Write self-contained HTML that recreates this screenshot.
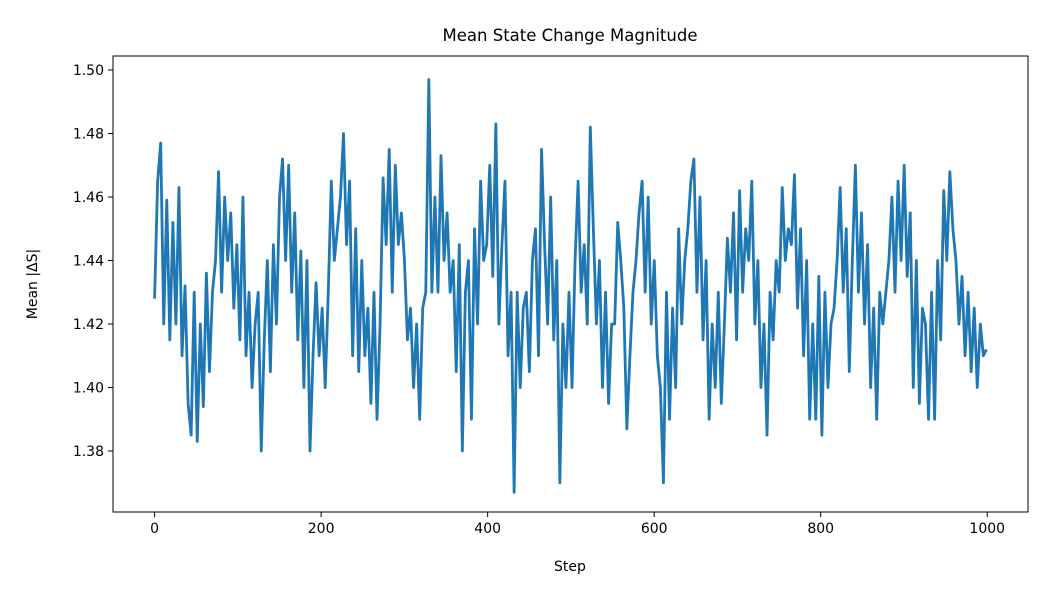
<!DOCTYPE html>
<html><head><meta charset="utf-8"><style>
body{margin:0;background:#fff;}
svg text{font-family:"DejaVu Sans","Liberation Sans",sans-serif;fill:#000;}
</style></head><body>
<svg width="1050" height="600" viewBox="0 0 1050 600" id="chart">
<rect width="1050" height="600" fill="#fff"/>
<text x="570" y="41" font-size="16.5" text-anchor="middle">Mean State Change Magnitude</text>
<text x="570" y="571" font-size="14" text-anchor="middle">Step</text>
<text x="0" y="0" font-size="14" text-anchor="middle" transform="translate(37,284) rotate(-90)">Mean |ΔS|</text>
<g id="plot"></g>
</svg>
<script>
const yTicks=[1.38,1.40,1.42,1.44,1.46,1.48,1.50];
const xTicks=[0,200,400,600,800,1000];
const values=[1.428,1.465,1.477,1.42,1.459,1.415,1.452,1.42,1.463,1.41,1.432,1.395,1.385,1.43,1.383,1.42,1.394,1.436,1.405,1.43,1.44,1.468,1.43,1.46,1.44,1.455,1.425,1.445,1.415,1.46,1.41,1.43,1.40,1.42,1.43,1.38,1.415,1.44,1.405,1.445,1.42,1.46,1.472,1.44,1.47,1.43,1.455,1.415,1.443,1.40,1.44,1.38,1.41,1.433,1.41,1.425,1.40,1.43,1.465,1.44,1.45,1.46,1.48,1.445,1.465,1.41,1.45,1.405,1.44,1.41,1.425,1.395,1.43,1.39,1.42,1.466,1.445,1.475,1.43,1.47,1.445,1.455,1.44,1.415,1.425,1.40,1.42,1.39,1.425,1.43,1.497,1.43,1.46,1.43,1.473,1.44,1.455,1.43,1.44,1.405,1.445,1.38,1.43,1.44,1.39,1.45,1.42,1.465,1.44,1.445,1.47,1.435,1.483,1.42,1.445,1.465,1.41,1.43,1.367,1.43,1.40,1.425,1.43,1.405,1.44,1.45,1.41,1.475,1.445,1.42,1.46,1.415,1.44,1.37,1.42,1.40,1.43,1.40,1.44,1.465,1.43,1.445,1.42,1.482,1.45,1.42,1.44,1.40,1.43,1.395,1.42,1.42,1.452,1.44,1.425,1.387,1.41,1.43,1.44,1.455,1.465,1.43,1.46,1.42,1.44,1.41,1.40,1.37,1.43,1.39,1.425,1.40,1.45,1.42,1.44,1.45,1.465,1.472,1.43,1.46,1.415,1.44,1.39,1.42,1.40,1.43,1.395,1.42,1.447,1.43,1.455,1.415,1.462,1.43,1.45,1.44,1.465,1.42,1.44,1.40,1.42,1.385,1.43,1.415,1.44,1.43,1.463,1.44,1.45,1.445,1.467,1.425,1.45,1.41,1.44,1.39,1.42,1.39,1.435,1.385,1.43,1.40,1.42,1.425,1.44,1.463,1.43,1.45,1.405,1.44,1.47,1.43,1.455,1.42,1.445,1.40,1.425,1.39,1.43,1.42,1.43,1.44,1.46,1.43,1.465,1.44,1.47,1.435,1.455,1.40,1.44,1.395,1.425,1.42,1.39,1.43,1.39,1.44,1.415,1.462,1.44,1.468,1.45,1.44,1.42,1.435,1.41,1.43,1.405,1.425,1.40,1.42,1.41,1.412];
const L=113,R=1028,T=56,B=512;
const xMin=-49.95,xMax=1048.95,yMin=1.3608,yMax=1.5044;
const xs=s=>L+(s-xMin)/(xMax-xMin)*(R-L);
const ys=v=>B-(v-yMin)/(yMax-yMin)*(B-T);
const NS='http://www.w3.org/2000/svg';
const g=document.getElementById('plot');
function mk(t,a){const e=document.createElementNS(NS,t);for(const k in a)e.setAttribute(k,a[k]);g.appendChild(e);return e;}
const n=values.length;
let d='';
values.forEach((v,i)=>{const s=i*999/(n-1);d+=(i?'L':'M')+xs(s).toFixed(2)+','+ys(v).toFixed(2);});
const line=mk('path',{d:d,fill:'none',stroke:'#1f77b4','stroke-width':2.8,'stroke-linejoin':'round'});


const frame=mk('rect',{x:L,y:T,width:R-L,height:B-T,fill:'none',stroke:'#000','stroke-width':1});


xTicks.forEach(t=>{const x=xs(t);
const tk=mk('line',{x1:x,x2:x,y1:B,y2:B+5,stroke:'#000'});


const lb=mk('text',{x:x,y:B+21,'font-size':14,'text-anchor':'middle'});lb.textContent=t;

});
yTicks.forEach(t=>{const y=ys(t);
const tk=mk('line',{x1:L-5,x2:L,y1:y,y2:y,stroke:'#000'});


const lb=mk('text',{x:L-9,y:y+5,'font-size':14,'text-anchor':'end'});lb.textContent=t.toFixed(2);

});
</script>
</body></html>
